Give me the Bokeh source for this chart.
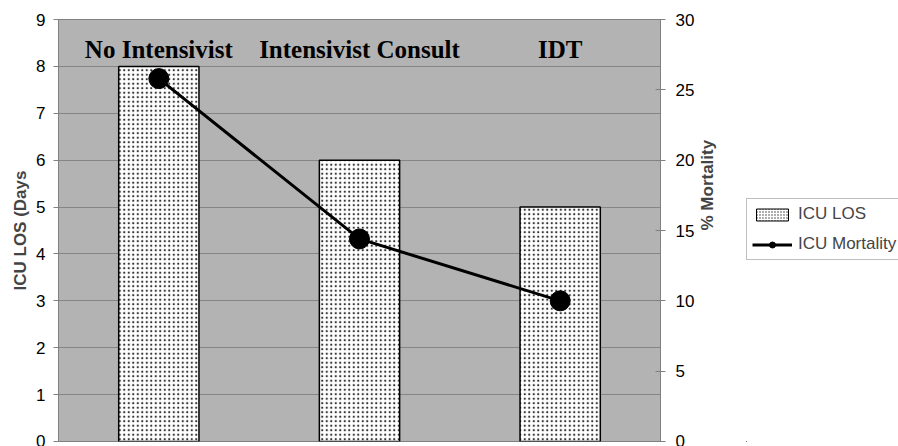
import math
from bokeh.plotting import figure
from bokeh.layouts import row
from bokeh.models import Range1d, LinearAxis, Legend, LegendItem, ColumnDataSource, FixedTicker
from bokeh.core.properties import value
from bokeh.embed import file_html
from bokeh.resources import INLINE

categories = ["No Intensivist", "Intensivist Consult", "IDT"]
icu_los = [8, 6, 5]
icu_mortality = [25.8, 14.4, 10]
los_ticks = [0, 1, 2, 3, 4, 5, 6, 7, 8, 9]
mort_ticks = [0, 5, 10, 15, 20, 25, 30]

xs = list(range(len(categories)))
src = ColumnDataSource(dict(x=xs, cat=categories, los=icu_los, mort=icu_mortality,
                            label_y=[8.36] * len(categories)))

p = figure(width=746, height=446, output_backend="svg", toolbar_location=None,
           x_range=Range1d(-0.5, len(categories) - 0.5), y_range=Range1d(0, 9),
           min_border_left=58, min_border_right=86, min_border_top=19, min_border_bottom=5)
p.extra_y_ranges = {"mort": Range1d(0, 30)}

p.background_fill_color = "#b3b3b3"
p.border_fill_color = "white"
p.outline_line_color = "#808080"
p.xaxis.visible = False
p.xgrid.visible = False
p.ygrid.grid_line_color = "#858585"
p.ygrid.grid_line_width = 1
p.ygrid.ticker = FixedTicker(ticks=los_ticks)

ya = p.yaxis[0]
ya.ticker = FixedTicker(ticks=los_ticks)
ya.axis_label = "ICU LOS (Days"
ya.axis_label_text_font = "Liberation Sans"
ya.axis_label_text_font_style = "bold"
ya.axis_label_text_font_size = "17px"
ya.axis_label_standoff = 3
ya.major_label_text_font = "Liberation Sans"
ya.major_label_text_font_size = "17px"
ya.major_label_text_color = "black"
ya.major_label_standoff = 8
ya.major_tick_in = 0
ya.major_tick_out = 5
ya.minor_tick_in = 0
ya.minor_tick_out = 0
ya.axis_line_color = "#808080"
ya.major_tick_line_color = "#808080"

ra = LinearAxis(y_range_name="mort", ticker=FixedTicker(ticks=mort_ticks), axis_label="% Mortality")
ra.axis_label_text_font = "Liberation Sans"
ra.axis_label_text_font_style = "bold"
ra.axis_label_text_font_size = "17px"
ra.axis_label_standoff = 10
ra.axis_label_orientation = math.pi / 2
ra.major_label_text_font = "Liberation Sans"
ra.major_label_text_font_size = "17px"
ra.major_label_text_color = "black"
ra.major_label_standoff = 10
ra.major_tick_in = 5
ra.major_tick_out = 5
ra.minor_tick_in = 0
ra.minor_tick_out = 0
ra.axis_line_color = "#808080"
ra.major_tick_line_color = "#808080"
p.add_layout(ra, "right")

bar_style = dict(fill_color="white", line_color="black", line_width=1.5, hatch_pattern="dot",
                 hatch_color="#333333", hatch_scale=4.5, hatch_weight=1.4)

p.vbar(x="x", top="los", width=0.4, source=src, **bar_style)
p.line(x="x", y="mort", source=src, y_range_name="mort", line_color="black", line_width=3)
p.scatter(x="x", y="mort", source=src, y_range_name="mort", size=20,
          fill_color="black", line_color="black")

p.text(x="x", y="label_y", text="cat", source=src, text_align="center", text_baseline="middle",
       text_font=value("Liberation Serif"), text_font_style="bold", text_font_size="25px",
       text_color="black")

# legend panel (renderers kept out of view; only the legend shows)
q = figure(width=152, height=446, output_backend="svg", toolbar_location=None,
           x_range=Range1d(100, 101), y_range=Range1d(100, 101),
           min_border_left=0, min_border_right=0, min_border_top=0, min_border_bottom=0)
q.axis.visible = False
q.grid.visible = False
q.outline_line_color = None
q.background_fill_color = "white"
q.border_fill_color = "white"

lb = q.vbar(x="x", top="los", width=0.4, source=src, fill_color="white", line_color="black",
            line_width=1, hatch_pattern="dot", hatch_color="#333333", hatch_scale=3,
            hatch_weight=1)
ll = q.line(x="x", y="mort", source=src, line_color="black", line_width=3)
lp = q.scatter(x="x", y="mort", source=src, size=20, fill_color="black", line_color="black")

legend = Legend(items=[LegendItem(label="ICU LOS", renderers=[lb]),
                       LegendItem(label="ICU Mortality", renderers=[ll, lp])],
                location=(0, 181))
legend.label_text_font = "Liberation Sans"
legend.label_text_font_size = "17px"
legend.glyph_width = 40
legend.glyph_height = 15
legend.label_height = 20
legend.label_standoff = 6
legend.spacing = 10
legend.padding = 5
legend.margin = 0
legend.border_line_color = "#808080"
legend.background_fill_color = "white"
legend.background_fill_alpha = 1
q.add_layout(legend)

layout = row(p, q)
open("out.html", "w").write(file_html(layout, INLINE))
